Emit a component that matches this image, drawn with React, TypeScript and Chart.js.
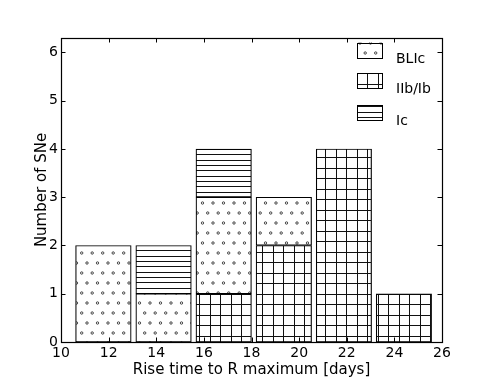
import React, { useEffect, useRef } from "react";
import { Chart, registerables } from "chart.js";

Chart.register(...registerables);

// ---- data ----
const binCenters = [11.78, 14.31, 16.83, 19.36, 21.88, 24.4];
const iibIbCounts = [0, 0, 1, 2, 4, 1];
const blicCounts = [2, 1, 2, 1, 0, 0];
const icCounts = [0, 1, 1, 0, 0, 0];
const seriesLabels = ["IIb/Ib", "BLIc", "Ic"]; // stacking order, bottom to top
const legendLabels = ["BLIc", "IIb/Ib", "Ic"]; // legend order
const xTickValues = [10, 12, 14, 16, 18, 20, 22, 24, 26];
const yTickValues = [0, 1, 2, 3, 4, 5, 6];

const FONT = "'DejaVu Sans', 'Liberation Sans', sans-serif";

function makeTile(w: number, h: number, draw: (c: CanvasRenderingContext2D) => void) {
  const cv = document.createElement("canvas");
  cv.width = w;
  cv.height = h;
  const c = cv.getContext("2d")!;
  c.fillStyle = "#fff";
  c.fillRect(0, 0, w, h);
  draw(c);
  return cv;
}

function makePatterns(ctx: CanvasRenderingContext2D) {
  const dots = makeTile(21, 20, (c) => {
    c.strokeStyle = "#333";
    c.lineWidth = 0.9;
    const pts = [
      [3, 3],
      [13.5, 3],
      [8.2, 13],
      [18.7, 13],
    ];
    pts.forEach(([x, y]) => {
      c.beginPath();
      c.arc(x, y, 1.2, 0, Math.PI * 2);
      c.stroke();
    });
  });
  const grid = makeTile(21, 21, (c) => {
    c.strokeStyle = "#111";
    c.lineWidth = 1;
    c.beginPath();
    [0.5, 10.5].forEach((p) => {
      c.moveTo(p, 0);
      c.lineTo(p, 21);
      c.moveTo(0, p);
      c.lineTo(21, p);
    });
    c.stroke();
  });
  const hlines = makeTile(16, 16, (c) => {
    c.strokeStyle = "#111";
    c.lineWidth = 1;
    c.beginPath();
    [0.5, 5.5, 10.5].forEach((p) => {
      c.moveTo(0, p);
      c.lineTo(16, p);
    });
    c.stroke();
  });
  return {
    "IIb/Ib": ctx.createPattern(grid, "repeat")!,
    BLIc: ctx.createPattern(dots, "repeat")!,
    Ic: ctx.createPattern(hlines, "repeat")!,
  } as Record<string, CanvasPattern>;
}

const framePlugin = {
  id: "frameTicks",
  afterDraw(chart: any) {
    const { ctx, chartArea: a, scales } = chart;
    const L = 4.5;
    ctx.save();
    ctx.strokeStyle = "#000";
    ctx.lineWidth = 1;
    ctx.beginPath();
    xTickValues.forEach((v) => {
      const px = Math.round(scales.x.getPixelForValue(v)) + 0.5;
      ctx.moveTo(px, a.bottom);
      ctx.lineTo(px, a.bottom - L);
      ctx.moveTo(px, a.top);
      ctx.lineTo(px, a.top + L);
    });
    yTickValues.forEach((v) => {
      const py = Math.round(scales.y.getPixelForValue(v)) + 0.5;
      ctx.moveTo(a.left, py);
      ctx.lineTo(a.left + L, py);
      ctx.moveTo(a.right, py);
      ctx.lineTo(a.right - L, py);
    });
    ctx.stroke();
    ctx.lineWidth = 1.2;
    ctx.strokeRect(Math.round(a.left) + 0.5, Math.round(a.top) + 0.5, Math.round(a.right - a.left), Math.round(a.bottom - a.top));
    ctx.restore();
  },
};

const legendPlugin = {
  id: "insideLegend",
  afterDatasetsDraw(chart: any) {
    const { ctx, chartArea: a } = chart;
    const ds = chart.data.datasets;
    ctx.save();
    const boxLeft = a.right - 85;
    const textLeft = a.right - 46;
    const tops = [4.5, 35, 67];
    legendLabels.forEach((lab, i) => {
      const d = ds.find((s: any) => s.label === lab);
      const top = a.top + tops[i];
      ctx.fillStyle = d.backgroundColor;
      ctx.fillRect(boxLeft, top, 25, 15);
      ctx.strokeStyle = "#000";
      ctx.lineWidth = 1;
      ctx.strokeRect(Math.round(boxLeft) + 0.5, Math.round(top) + 0.5, 25, 15);
      ctx.fillStyle = "#000";
      ctx.font = `14px ${FONT}`;
      ctx.textBaseline = "alphabetic";
      ctx.textAlign = "left";
      ctx.fillText(lab, textLeft, top + 20);
    });
    ctx.restore();
  },
};

export default function App() {
  const ref = useRef<HTMLCanvasElement>(null);
  useEffect(() => {
    const canvas = ref.current!;
    const ctx = canvas.getContext("2d")!;
    const patterns = makePatterns(ctx);
    const counts: Record<string, number[]> = {
      "IIb/Ib": iibIbCounts,
      BLIc: blicCounts,
      Ic: icCounts,
    };
    const chart = new Chart(canvas, {
      type: "bar",
      data: {
        datasets: seriesLabels.map((label) => ({
          label,
          data: binCenters.map((x, j) => ({ x, y: counts[label][j] ? counts[label][j] : null })),
          backgroundColor: patterns[label],
          borderColor: "#000",
          borderWidth: 1.2,
          borderSkipped: false,
          barThickness: "flex",
          barPercentage: 0.923,
          categoryPercentage: 1,
        })) as any,
      },
      options: {
        animation: false,
        responsive: false,
        devicePixelRatio: 1,
        layout: { padding: { left: 0, top: 38, right: 49, bottom: 0 } },
        plugins: { legend: { display: false }, tooltip: { enabled: false } },
        scales: {
          x: {
            type: "linear",
            min: 10,
            max: 26,
            stacked: true,
            offset: false,
            grid: { display: false, drawTicks: false, offset: false },
            border: { display: false },
            ticks: {
              stepSize: 2,
              autoSkip: false,
              maxRotation: 0,
              color: "#000",
              padding: 3,
              font: { family: FONT, size: 14 },
            },
            title: {
              display: true,
              text: "Rise time to R maximum [days]",
              color: "#000",
              font: { family: FONT, size: 15 },
              padding: { top: 0, bottom: 2.5 },
            },
            afterFit: (s: any) => {
              s.height = 40;
            },
          },
          y: {
            type: "linear",
            min: 0,
            max: 6.3,
            stacked: true,
            grid: { display: false, drawTicks: false },
            border: { display: false },
            ticks: {
              stepSize: 1,
              includeBounds: false,
              color: "#000",
              padding: 3,
              font: { family: FONT, size: 14 },
            },
            title: {
              display: true,
              text: "Number of SNe",
              color: "#000",
              font: { family: FONT, size: 15 },
              padding: { top: 33.5, bottom: 0 },
            },
            afterFit: (s: any) => {
              s.width = 61;
            },
          },
        },
      } as any,
      plugins: [legendPlugin, framePlugin],
    });
    return () => chart.destroy();
  }, []);
  return (
    <div style={{ position: "absolute", left: 0, top: 0, width: 491, height: 382, background: "#fff" }}>
      <canvas ref={ref} width={491} height={382} style={{ display: "block" }} />
    </div>
  );
}
